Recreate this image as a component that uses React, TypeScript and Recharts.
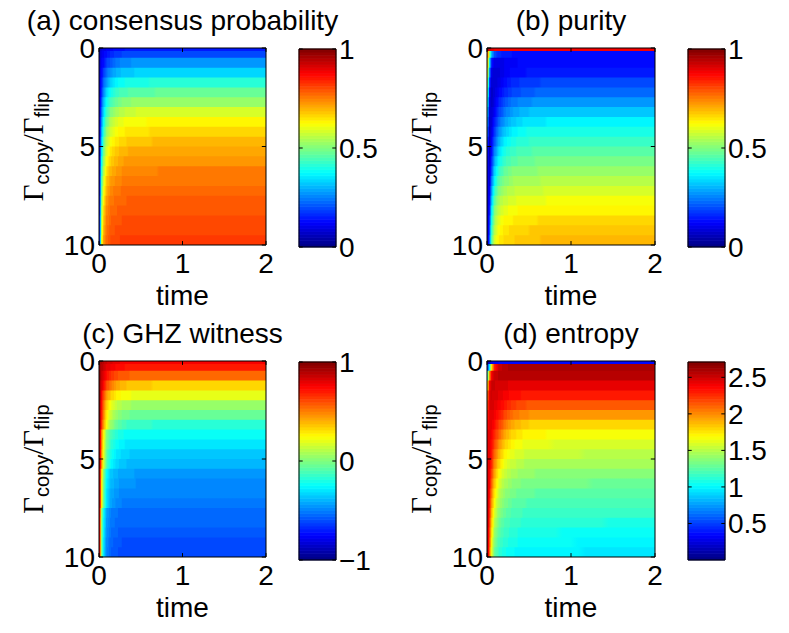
import React from 'react';
import { ComposedChart, XAxis, YAxis, ReferenceArea, ReferenceLine } from 'recharts';

// ---- grid: time sample points (column centres) and ratio bands ----
const timeSamples = [0.01, 0.03, 0.055, 0.09, 0.14, 0.21, 0.3, 0.45, 0.72, 1.45];
const ratioEdges = [0, 0.15, 0.5, 1, 1.5, 2, 2.5, 3, 3.5, 4, 4.5, 5, 5.5, 6, 6.5, 7, 7.5, 8, 8.5, 9, 9.5, 10];
const timeTicks = [0, 1, 2];
const ratioTicks = [0, 5, 10];

// ---- panel values (rows: ratio bands top->bottom, cols: time samples) ----
const consensus = [
  [0.07, 0.09, 0.10, 0.11, 0.12, 0.13, 0.14, 0.15, 0.15, 0.15],
  [0.07, 0.10, 0.12, 0.14, 0.16, 0.18, 0.19, 0.20, 0.20, 0.20],
  [0.08, 0.11, 0.14, 0.18, 0.21, 0.24, 0.26, 0.27, 0.27, 0.27],
  [0.08, 0.13, 0.18, 0.23, 0.27, 0.30, 0.32, 0.33, 0.34, 0.34],
  [0.09, 0.15, 0.22, 0.28, 0.33, 0.37, 0.39, 0.40, 0.41, 0.41],
  [0.09, 0.17, 0.26, 0.33, 0.39, 0.43, 0.45, 0.46, 0.47, 0.47],
  [0.10, 0.20, 0.30, 0.38, 0.44, 0.48, 0.51, 0.52, 0.53, 0.53],
  [0.10, 0.23, 0.34, 0.43, 0.50, 0.54, 0.56, 0.58, 0.58, 0.58],
  [0.11, 0.26, 0.38, 0.48, 0.55, 0.59, 0.61, 0.62, 0.63, 0.63],
  [0.11, 0.29, 0.42, 0.52, 0.58, 0.62, 0.64, 0.65, 0.66, 0.66],
  [0.12, 0.32, 0.46, 0.56, 0.62, 0.65, 0.67, 0.68, 0.69, 0.69],
  [0.12, 0.35, 0.49, 0.59, 0.65, 0.68, 0.70, 0.71, 0.71, 0.71],
  [0.13, 0.38, 0.52, 0.62, 0.67, 0.70, 0.72, 0.73, 0.73, 0.73],
  [0.13, 0.41, 0.55, 0.65, 0.70, 0.72, 0.74, 0.745, 0.75, 0.75],
  [0.14, 0.44, 0.58, 0.68, 0.72, 0.74, 0.755, 0.76, 0.76, 0.76],
  [0.14, 0.46, 0.61, 0.70, 0.74, 0.76, 0.77, 0.77, 0.775, 0.775],
  [0.15, 0.49, 0.64, 0.72, 0.76, 0.77, 0.78, 0.785, 0.785, 0.785],
  [0.15, 0.52, 0.66, 0.74, 0.77, 0.78, 0.79, 0.795, 0.795, 0.795],
  [0.16, 0.54, 0.68, 0.75, 0.78, 0.79, 0.80, 0.80, 0.805, 0.805],
  [0.16, 0.56, 0.70, 0.76, 0.79, 0.80, 0.81, 0.81, 0.81, 0.81],
  [0.17, 0.58, 0.72, 0.77, 0.80, 0.81, 0.815, 0.815, 0.82, 0.82],
];

const purity = [
  [0.95, 0.92, 0.90, 0.89, 0.88, 0.88, 0.88, 0.88, 0.88, 0.88],
  [0.75, 0.50, 0.30, 0.20, 0.16, 0.15, 0.14, 0.14, 0.14, 0.14],
  [0.68, 0.35, 0.15, 0.10, 0.10, 0.11, 0.12, 0.13, 0.13, 0.13],
  [0.60, 0.25, 0.10, 0.08, 0.09, 0.11, 0.13, 0.14, 0.15, 0.15],
  [0.52, 0.18, 0.08, 0.08, 0.10, 0.13, 0.16, 0.18, 0.19, 0.19],
  [0.45, 0.13, 0.07, 0.09, 0.12, 0.16, 0.19, 0.21, 0.23, 0.23],
  [0.38, 0.10, 0.07, 0.10, 0.15, 0.20, 0.24, 0.26, 0.28, 0.28],
  [0.32, 0.08, 0.08, 0.12, 0.18, 0.24, 0.28, 0.31, 0.32, 0.32],
  [0.27, 0.07, 0.09, 0.15, 0.22, 0.28, 0.32, 0.35, 0.36, 0.36],
  [0.22, 0.06, 0.10, 0.18, 0.26, 0.32, 0.36, 0.39, 0.40, 0.40],
  [0.18, 0.06, 0.12, 0.21, 0.30, 0.36, 0.40, 0.42, 0.43, 0.43],
  [0.15, 0.06, 0.14, 0.25, 0.34, 0.40, 0.43, 0.45, 0.46, 0.46],
  [0.13, 0.07, 0.17, 0.29, 0.38, 0.43, 0.46, 0.48, 0.49, 0.49],
  [0.11, 0.08, 0.20, 0.33, 0.42, 0.47, 0.50, 0.51, 0.52, 0.52],
  [0.10, 0.09, 0.24, 0.37, 0.46, 0.50, 0.53, 0.54, 0.55, 0.55],
  [0.09, 0.11, 0.28, 0.42, 0.50, 0.54, 0.56, 0.57, 0.58, 0.58],
  [0.08, 0.13, 0.32, 0.46, 0.54, 0.57, 0.59, 0.60, 0.61, 0.61],
  [0.08, 0.15, 0.36, 0.50, 0.57, 0.60, 0.62, 0.63, 0.64, 0.64],
  [0.07, 0.18, 0.40, 0.53, 0.60, 0.63, 0.64, 0.65, 0.66, 0.66],
  [0.07, 0.20, 0.43, 0.56, 0.62, 0.65, 0.66, 0.67, 0.68, 0.68],
  [0.07, 0.22, 0.46, 0.58, 0.64, 0.66, 0.67, 0.68, 0.69, 0.69],
];

const ghzWitness = [
  [0.95, 0.91, 0.88, 0.85, 0.82, 0.79, 0.77, 0.76, 0.76, 0.76],
  [0.95, 0.90, 0.86, 0.81, 0.78, 0.74, 0.72, 0.70, 0.70, 0.70],
  [0.95, 0.87, 0.81, 0.72, 0.66, 0.60, 0.57, 0.55, 0.54, 0.54],
  [0.95, 0.83, 0.74, 0.61, 0.52, 0.43, 0.38, 0.35, 0.34, 0.34],
  [0.95, 0.76, 0.61, 0.46, 0.35, 0.28, 0.23, 0.21, 0.20, 0.20],
  [0.95, 0.72, 0.54, 0.36, 0.22, 0.13, 0.08, 0.05, 0.04, 0.04],
  [0.95, 0.70, 0.50, 0.29, 0.14, 0.04, -0.02, -0.05, -0.06, -0.06],
  [0.95, 0.67, 0.45, 0.23, 0.06, -0.05, -0.12, -0.15, -0.16, -0.16],
  [0.89, 0.53, 0.26, 0.03, -0.10, -0.18, -0.22, -0.24, -0.24, -0.24],
  [0.89, 0.51, 0.23, -0.01, -0.15, -0.24, -0.28, -0.30, -0.30, -0.30],
  [0.88, 0.49, 0.19, -0.06, -0.20, -0.29, -0.33, -0.36, -0.36, -0.36],
  [0.88, 0.48, 0.17, -0.09, -0.24, -0.33, -0.37, -0.40, -0.40, -0.40],
  [0.84, 0.32, 0.00, -0.25, -0.36, -0.40, -0.43, -0.44, -0.44, -0.44],
  [0.84, 0.31, -0.02, -0.27, -0.38, -0.43, -0.46, -0.47, -0.47, -0.47],
  [0.83, 0.30, -0.04, -0.30, -0.41, -0.46, -0.49, -0.50, -0.50, -0.50],
  [0.83, 0.29, -0.05, -0.31, -0.43, -0.48, -0.51, -0.52, -0.52, -0.52],
  [0.77, 0.06, -0.24, -0.42, -0.50, -0.53, -0.54, -0.54, -0.54, -0.54],
  [0.77, 0.04, -0.26, -0.44, -0.51, -0.54, -0.56, -0.56, -0.56, -0.56],
  [0.77, 0.03, -0.27, -0.46, -0.53, -0.56, -0.58, -0.58, -0.58, -0.58],
  [0.76, 0.02, -0.29, -0.48, -0.55, -0.58, -0.60, -0.60, -0.60, -0.60],
  [0.76, 0.01, -0.30, -0.49, -0.56, -0.59, -0.61, -0.61, -0.61, -0.61],
];

const entropy = [
  [0.10, 0.20, 0.28, 0.32, 0.34, 0.35, 0.35, 0.35, 0.35, 0.35],
  [0.50, 1.00, 1.80, 2.30, 2.50, 2.57, 2.60, 2.60, 2.60, 2.60],
  [1.20, 2.00, 2.40, 2.50, 2.55, 2.57, 2.58, 2.58, 2.58, 2.58],
  [1.80, 2.40, 2.50, 2.50, 2.48, 2.46, 2.45, 2.44, 2.44, 2.44],
  [2.10, 2.45, 2.50, 2.48, 2.45, 2.40, 2.35, 2.32, 2.30, 2.30],
  [2.20, 2.45, 2.48, 2.45, 2.40, 2.32, 2.22, 2.16, 2.13, 2.12],
  [2.30, 2.45, 2.45, 2.40, 2.32, 2.20, 2.08, 2.00, 1.96, 1.95],
  [2.35, 2.45, 2.42, 2.35, 2.22, 2.06, 1.92, 1.83, 1.79, 1.78],
  [2.40, 2.45, 2.40, 2.28, 2.12, 1.94, 1.80, 1.72, 1.69, 1.68],
  [2.42, 2.44, 2.36, 2.20, 2.00, 1.83, 1.71, 1.64, 1.61, 1.60],
  [2.45, 2.43, 2.32, 2.10, 1.90, 1.73, 1.62, 1.56, 1.53, 1.52],
  [2.46, 2.42, 2.27, 2.02, 1.80, 1.64, 1.54, 1.48, 1.45, 1.44],
  [2.48, 2.40, 2.20, 1.93, 1.70, 1.55, 1.46, 1.41, 1.38, 1.37],
  [2.50, 2.38, 2.12, 1.84, 1.61, 1.47, 1.39, 1.34, 1.32, 1.31],
  [2.50, 2.35, 2.05, 1.75, 1.53, 1.40, 1.33, 1.28, 1.26, 1.25],
  [2.52, 2.32, 1.98, 1.67, 1.46, 1.34, 1.27, 1.23, 1.21, 1.20],
  [2.52, 2.28, 1.90, 1.58, 1.39, 1.28, 1.22, 1.18, 1.16, 1.15],
  [2.53, 2.24, 1.82, 1.50, 1.32, 1.22, 1.17, 1.13, 1.11, 1.10],
  [2.54, 2.20, 1.75, 1.43, 1.26, 1.17, 1.12, 1.08, 1.06, 1.05],
  [2.55, 2.15, 1.68, 1.36, 1.20, 1.12, 1.07, 1.04, 1.02, 1.01],
  [2.55, 2.10, 1.60, 1.30, 1.15, 1.07, 1.02, 0.99, 0.98, 0.97],
];

// ---- colour limits and colorbar ticks ----
const consensusLimits = [0, 1];
const purityLimits = [0, 1];
const ghzLimits = [-1, 1];
const entropyLimits = [0, 2.71];
const consensusBarTicks = [0, 0.5, 1];
const purityBarTicks = [0, 0.5, 1];
const ghzBarTicks = [-1, 0, 1];
const entropyBarTicks = [0.5, 1, 1.5, 2, 2.5];

const FONT = "'Liberation Sans', Arial, Helvetica, sans-serif";
const SERIF = "'Liberation Serif', 'Times New Roman', serif";
const FS = 28;
const LEVELS = 64;
const TMAX = 2;

function jetColor(x: number) {
  const c = (u: number) => Math.round(255 * Math.max(0, Math.min(1, u)));
  return `rgb(${c(1.5 - Math.abs(4 * x - 3))},${c(1.5 - Math.abs(4 * x - 2))},${c(1.5 - Math.abs(4 * x - 1))})`;
}
function colorOf(v: number, lo: number, hi: number) {
  const x = Math.max(0, Math.min(1, (v - lo) / (hi - lo)));
  const idx = Math.min(LEVELS - 1, Math.floor(x * LEVELS));
  return jetColor((idx + 0.5) / LEVELS);
}

// colour stops of one row's horizontal shading (like MATLAB "shading interp")
function rowStops(row: number[], lo: number, hi: number) {
  const stops: { offset: number; color: string }[] = [{ offset: 0, color: colorOf(row[0], lo, hi) }];
  const SUB = 8;
  for (let j = 0; j < row.length - 1; j++) {
    for (let k = 0; k < SUB; k++) {
      const f = k / SUB;
      const t = timeSamples[j] + f * (timeSamples[j + 1] - timeSamples[j]);
      stops.push({ offset: t / TMAX, color: colorOf(row[j] + f * (row[j + 1] - row[j]), lo, hi) });
    }
  }
  const last = row[row.length - 1];
  stops.push({ offset: timeSamples[row.length - 1] / TMAX, color: colorOf(last, lo, hi) });
  stops.push({ offset: 1, color: colorOf(last, lo, hi) });
  return stops;
}

type Box = { x0: number; x1: number; y0: number; y1: number };

const tickStyle = { fontSize: FS, fill: '#000', fontFamily: FONT };

function Heatmap({ id, box, grid, limits }: { id: string; box: Box; grid: number[][]; limits: number[] }) {
  const [lo, hi] = limits;
  const rows = grid.map((row, i) => ({
    r0: ratioEdges[i],
    r1: ratioEdges[i + 1],
    t: 0,
    stops: rowStops(row, lo, hi),
    gid: `${id}-row-${i}`,
  }));
  const pw = box.x1 - box.x0;
  const ph = box.y1 - box.y0;
  const w = pw + 99 + 60;
  const h = ph + 48 + 75;
  const tx = 0.05;
  const ty = 0.2;
  const overlap = 0.06;
  return (
    <div style={{ position: 'absolute', left: box.x0 - 99, top: box.y0 - 48 }}>
      <svg width={0} height={0} style={{ position: 'absolute' }}>
        <defs>
          {rows.map((r) => (
            <linearGradient key={r.gid} id={r.gid} x1="0" x2="1" y1="0" y2="0">
              {r.stops.map((s, k) => (
                <stop key={k} offset={s.offset} stopColor={s.color} />
              ))}
            </linearGradient>
          ))}
        </defs>
      </svg>
      <ComposedChart width={w} height={h} data={rows} margin={{ top: 48, left: 59, right: 60, bottom: 45 }}>
        <XAxis type="number" dataKey="t" domain={[0, TMAX]} ticks={timeTicks} allowDataOverflow interval={0}
          axisLine={false} tickLine={false} tickSize={0} tickMargin={8} height={30} tick={tickStyle} />
        <YAxis type="number" dataKey="r0" domain={[0, 10]} reversed ticks={ratioTicks} allowDataOverflow interval={0}
          axisLine={false} tickLine={false} tickSize={0} tickMargin={4} width={40} tick={tickStyle} />
        {rows.map((r, k) => (
          <ReferenceArea key={k} x1={0} x2={TMAX} y1={r.r0} y2={k < rows.length - 1 ? r.r1 + overlap : r.r1}
            fill={`url(#${r.gid})`} fillOpacity={1} stroke="none" ifOverflow="visible" />
        ))}
        <ReferenceArea x1={0} x2={TMAX} y1={0} y2={10} fill="none" stroke="#000" strokeWidth={1} ifOverflow="visible" />
        {timeTicks.map((t) => (
          <ReferenceLine key={'b' + t} segment={[{ x: t, y: 10 }, { x: t, y: 10 - ty }]} stroke="#000" ifOverflow="visible" />
        ))}
        {timeTicks.map((t) => (
          <ReferenceLine key={'t' + t} segment={[{ x: t, y: 0 }, { x: t, y: ty }]} stroke="#000" ifOverflow="visible" />
        ))}
        {ratioTicks.map((r) => (
          <ReferenceLine key={'l' + r} segment={[{ x: 0, y: r }, { x: tx, y: r }]} stroke="#000" ifOverflow="visible" />
        ))}
        {ratioTicks.map((r) => (
          <ReferenceLine key={'r' + r} segment={[{ x: TMAX, y: r }, { x: TMAX - tx, y: r }]} stroke="#000" ifOverflow="visible" />
        ))}
      </ComposedChart>
    </div>
  );
}

function Colorbar({ box, limits, ticks }: { box: Box; limits: number[]; ticks: number[] }) {
  const [lo, hi] = limits;
  const bands = Array.from({ length: LEVELS }, (_, i) => ({
    x: i % 2,
    y: lo + ((hi - lo) * i) / LEVELS,
    y1: lo + ((hi - lo) * i) / LEVELS,
    y2: lo + ((hi - lo) * (i + 1)) / LEVELS,
    color: jetColor((i + 0.5) / LEVELS),
  }));
  const cw = box.x1 - box.x0;
  const ch = box.y1 - box.y0;
  const tl = 0.1;
  const fmt = (v: number) => (v < 0 ? '\u2212' + Math.abs(v) : String(v));
  return (
    <div style={{ position: 'absolute', left: box.x0 - 10, top: box.y0 - 20 }}>
      <ComposedChart width={cw + 10 + 80} height={ch + 40} data={bands} margin={{ top: 20, bottom: 20, left: 10, right: 0 }}>
        <XAxis type="number" dataKey="x" domain={[0, 1]} allowDataOverflow height={0} tick={false} axisLine={false} tickLine={false} />
        <YAxis type="number" dataKey="y" orientation="right" domain={[lo, hi]} ticks={ticks} allowDataOverflow interval={0}
          axisLine={false} tickLine={false} tickSize={0} tickMargin={3} width={80} tick={tickStyle} tickFormatter={fmt} />
        {bands.map((b, i) => (
          <ReferenceArea key={i} x1={0} x2={1} y1={b.y1} y2={b.y2} fill={b.color} fillOpacity={1}
            stroke={b.color} strokeWidth={0.8} ifOverflow="visible" />
        ))}
        <ReferenceArea x1={0} x2={1} y1={lo} y2={hi} fill="none" stroke="#000" strokeWidth={1} ifOverflow="visible" />
        {ticks.map((t) => (
          <ReferenceLine key={'l' + t} segment={[{ x: 0, y: t }, { x: tl, y: t }]} stroke="#000" ifOverflow="visible" />
        ))}
        {ticks.map((t) => (
          <ReferenceLine key={'r' + t} segment={[{ x: 1, y: t }, { x: 1 - tl, y: t }]} stroke="#000" ifOverflow="visible" />
        ))}
      </ComposedChart>
    </div>
  );
}

function YLabel({ x, y }: { x: number; y: number }) {
  return (
    <text transform={`rotate(-90 ${x} ${y})`} x={x} y={y} textAnchor="middle" fill="#000">
      <tspan fontFamily={SERIF} fontSize={29}>Γ</tspan>
      <tspan fontFamily={FONT} fontSize={20} dy={6}>copy</tspan>
      <tspan fontFamily={SERIF} fontSize={29} dy={-6}>/Γ</tspan>
      <tspan fontFamily={FONT} fontSize={20} dy={6}>flip</tspan>
    </text>
  );
}

const panels = [
  { id: 'a', title: '(a) consensus probability', grid: consensus, limits: consensusLimits, ticks: consensusBarTicks,
    box: { x0: 99, x1: 266, y0: 48, y1: 245 }, bar: { x0: 299, x1: 336, y0: 49, y1: 247 } },
  { id: 'b', title: '(b) purity', grid: purity, limits: purityLimits, ticks: purityBarTicks,
    box: { x0: 487, x1: 655, y0: 48, y1: 245 }, bar: { x0: 688, x1: 725, y0: 49, y1: 247 } },
  { id: 'c', title: '(c) GHZ witness', grid: ghzWitness, limits: ghzLimits, ticks: ghzBarTicks,
    box: { x0: 99, x1: 266, y0: 361, y1: 557 }, bar: { x0: 299, x1: 336, y0: 362, y1: 560 } },
  { id: 'd', title: '(d) entropy', grid: entropy, limits: entropyLimits, ticks: entropyBarTicks,
    box: { x0: 487, x1: 655, y0: 361, y1: 557 }, bar: { x0: 688, x1: 725, y0: 362, y1: 560 } },
];

export default function App() {
  return (
    <div style={{ position: 'absolute', left: 0, top: 0, width: 789, height: 633, background: '#fff' }}>
      {panels.map((p) => (
        <React.Fragment key={p.id}>
          <Heatmap id={p.id} box={p.box} grid={p.grid} limits={p.limits} />
          <Colorbar box={p.bar} limits={p.limits} ticks={p.ticks} />
        </React.Fragment>
      ))}
      <svg width={789} height={633} style={{ position: 'absolute', left: 0, top: 0, pointerEvents: 'none' }}>
        {panels.map((p) => {
          const cx = (p.box.x0 + p.box.x1) / 2;
          const cy = (p.box.y0 + p.box.y1) / 2;
          return (
            <g key={p.id}>
              <text x={cx} y={p.box.y0 - 18} textAnchor="middle" fontFamily={FONT} fontSize={FS} fill="#000">{p.title}</text>
              <text x={cx} y={p.box.y1 + 60} textAnchor="middle" fontFamily={FONT} fontSize={FS} fill="#000">time</text>
              <YLabel x={p.box.x0 - 56} y={cy} />
            </g>
          );
        })}
      </svg>
    </div>
  );
}
